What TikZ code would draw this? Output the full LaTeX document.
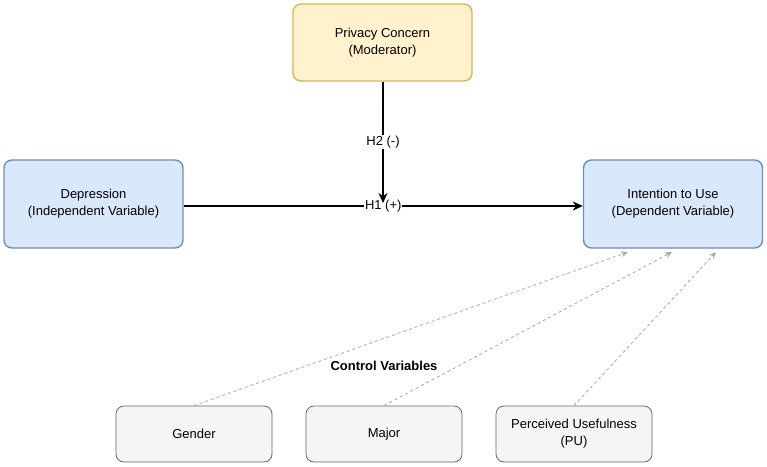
\documentclass[tikz,border=0pt]{standalone}
\usepackage{fontspec}
\setmainfont{Liberation Sans}
\usetikzlibrary{arrows.meta}
\definecolor{ylwfill}{HTML}{FFF2CC}
\definecolor{ylwline}{HTML}{D6B656}
\definecolor{bluefill}{HTML}{DAE8FC}
\definecolor{blueline}{HTML}{6C8EBF}
\definecolor{grayfill}{HTML}{F5F5F5}
\definecolor{grayline}{HTML}{666666}
\tikzset{
  varbox/.style={draw,rounded corners=8pt,line width=1.4pt,align=center,
    minimum width=179pt,minimum height=88pt,font=\fontsize{13}{17}\selectfont},
  modbox/.style={varbox,fill=ylwfill,draw=ylwline,minimum height=77pt},
  mainbox/.style={varbox,fill=bluefill,draw=blueline},
  ctrlbox/.style={varbox,fill=grayfill,draw=grayline,line width=0.8pt,
    minimum width=156pt,minimum height=56pt},
  hyp/.style={line width=1.5pt,-{Stealth[length=10pt,width=9pt]}},
  ctrl/.style={draw=gray!70,dashed,line width=0.8pt,-{Stealth[length=7pt,width=6pt]}},
  hlabel/.style={fill=white,inner sep=1pt,font=\fontsize{13}{15}\selectfont}
}
\begin{document}
\begin{tikzpicture}[x=1pt,y=-1pt]
\useasboundingbox (0,0) rectangle (767,466);
\node[modbox] (priv) at (382.5,42.5) {Privacy Concern\\(Moderator)};
\node[mainbox] (dep) at (93.5,204) {Depression\\(Independent Variable)};
\node[mainbox] (int) at (673,204) {Intention to Use\\(Dependent Variable)};
\node[ctrlbox] (gen) at (194,434) {Gender};
\node[ctrlbox] (maj) at (384,434) {Major};
\node[ctrlbox] (pu) at (574,434) {Perceived Usefulness\\(PU)};
\node[font=\bfseries\fontsize{13}{15}\selectfont] (ctrltitle) at (384,366) {Control Variables};
% main path
\coordinate (hit) at (383,203);
\draw[hyp] (dep.east|-0,206) -- node[hlabel]{H1 (+)} (int.west|-0,206);
\draw[hyp] (priv.south-|hit) -- node[hlabel,pos=0.5]{H2 (-)} (hit);
% control paths
\coordinate (gtip) at (628,252);
\coordinate (mtip) at (672,252);
\coordinate (ptip) at (716,252);
\draw[ctrl] (gen.north) -- (gtip);
\draw[ctrl] (maj.north) -- (mtip);
\draw[ctrl] (pu.north) -- (ptip);
\end{tikzpicture}
\end{document}
